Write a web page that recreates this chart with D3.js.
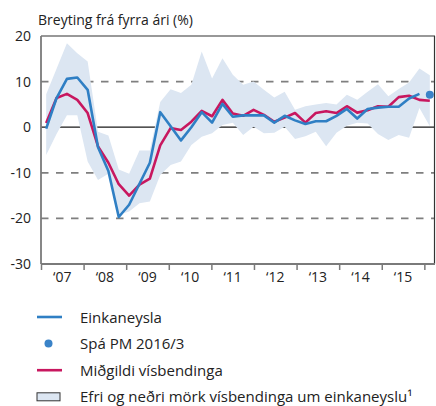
<!DOCTYPE html>
<html>
<head>
<meta charset="utf-8">
<script src="https://cdn.jsdelivr.net/npm/d3@7"></script>
<style>
  body { margin: 0; background: #fff; }
  svg { display: block; font-family: "Open Sans", sans-serif; }
</style>
</head>
<body>
<svg id="chart"></svg>
<script>
// Ársfjórðungar 2007F1 - 2016F2
const quarters = [
  "2007Q1","2007Q2","2007Q3","2007Q4","2008Q1","2008Q2","2008Q3","2008Q4",
  "2009Q1","2009Q2","2009Q3","2009Q4","2010Q1","2010Q2","2010Q3","2010Q4",
  "2011Q1","2011Q2","2011Q3","2011Q4","2012Q1","2012Q2","2012Q3","2012Q4",
  "2013Q1","2013Q2","2013Q3","2013Q4","2014Q1","2014Q2","2014Q3","2014Q4",
  "2015Q1","2015Q2","2015Q3","2015Q4","2016Q1","2016Q2"
];

// Einkaneysla (2007Q1 - 2016Q1)
const einkaneysla = [
  -0.3, 6.4, 10.6, 10.9, 8.2, -4.4, -9.6, -19.7,
  -17.0, -12.4, -7.8, 3.3, 0.2, -2.9, 0.0, 3.3,
  1.0, 5.1, 2.3, 2.6, 2.6, 2.6, 1.0, 2.5,
  1.5, 0.7, 1.3, 1.3, 2.5, 4.0, 1.9, 4.0,
  4.3, 4.5, 4.5, 6.3, 7.3
];

// Spá PM 2016/3
const spaQuarter = "2016Q2";
const spaValue = 7.1;

// Miðgildi vísbendinga
const midgildi = [
  0.9, 6.4, 7.3, 6.0, 3.1, -4.2, -7.8, -12.5,
  -15.0, -12.6, -11.3, -4.0, -0.2, -0.6, 1.2, 3.6,
  2.4, 6.0, 3.0, 2.5, 3.8, 2.7, 1.2, 2.1,
  3.1, 1.0, 3.1, 3.5, 3.1, 4.6, 3.2, 3.7,
  4.6, 4.5, 6.6, 6.9, 6.0, 5.8
];

// Efri og neðri mörk vísbendinga
const efri = [
  7.2, 12.8, 18.4, 16.2, 14.4, -1.0, -1.8, -9.3,
  -10.2, -5.1, -5.1, 5.5, 8.3, 7.5, 9.3, 16.6,
  10.7, 15.1, 11.5, 9.3, 10.0, 8.2, 6.5, 7.8,
  3.8, 4.6, 5.0, 5.3, 5.0, 7.1, 6.0, 7.8,
  9.4, 6.8, 8.4, 9.8, 12.9, 11.4
];
const nedri = [
  -6.1, -1.5, 2.6, 2.6, -7.5, -11.6, -10.2, -19.2,
  -18.5, -16.7, -16.3, -10.5, -8.3, -7.5, -3.9, -2.1,
  -1.3, 0.5, 1.0, -1.7, 0.1, -1.3, -1.2, 0.1,
  -2.6, -2.0, -1.0, -4.2, -1.2, 0.3, 1.0, 0.8,
  -1.5, -2.8, -1.7, -2.3, 4.2, 0.2
];

const yTicks = [20, 10, 0, -10, -20, -30];
const yearTicks = [2007, 2008, 2009, 2010, 2011, 2012, 2013, 2014, 2015, 2016];
const yearLabels = ["‘07", "‘08", "‘09", "‘10", "‘11", "‘12", "‘13", "‘14", "‘15"];

const legendItems = [
  { key: "line", color: "#2f7fc4", label: "Einkaneysla" },
  { key: "dot", color: "#3a83c8", label: "Spá PM 2016/3" },
  { key: "line", color: "#c8175f", label: "Miðgildi vísbendinga" },
  { key: "box", color: "#dce6f2", label: "Efri og neðri mörk vísbendinga um einkaneyslu¹" }
];

const width = 436, height = 406;
const margin = { top: 36, right: 1, bottom: 142, left: 41 };
const plotRight = width - margin.right;
const plotBottom = height - margin.bottom;

const svg = d3.select("#chart")
  .attr("width", width)
  .attr("height", height)
  .attr("viewBox", [0, 0, width, height]);

// x fyrir gögn (ársfjórðungar) og x fyrir ártöl á ás
const x = d3.scalePoint()
  .domain(quarters)
  .range([margin.left, plotRight])
  .padding(0.5);

const xYear = d3.scaleLinear()
  .domain([2007, 2016.25])
  .range([margin.left, plotRight]);

const y = d3.scaleLinear()
  .domain([-30, 20])
  .range([plotBottom, margin.top]);

// Gridlínur
svg.append("g")
  .selectAll("line")
  .data(yTicks.filter(d => d !== 0 && d !== 20 && d !== -30))
  .join("line")
    .attr("x1", margin.left)
    .attr("x2", plotRight)
    .attr("y1", d => y(d))
    .attr("y2", d => y(d))
    .attr("stroke", "#7f7f7f")
    .attr("stroke-width", 1.8)
    .attr("stroke-dasharray", "7.5,7.5");

svg.append("line")
  .attr("x1", margin.left)
  .attr("x2", plotRight)
  .attr("y1", y(0))
  .attr("y2", y(0))
  .attr("stroke", "#1a1a1a")
  .attr("stroke-width", 1.2);

// Bil vísbendinga
const band = quarters.map((q, i) => ({ q, hi: efri[i], lo: nedri[i] }));

svg.append("path")
  .datum(band)
  .attr("fill", "#dce6f2")
  .attr("d", d3.area()
    .x(d => x(d.q))
    .y0(d => y(d.lo))
    .y1(d => y(d.hi)));

// Miðgildi
svg.append("path")
  .datum(midgildi.map((v, i) => ({ q: quarters[i], v })))
  .attr("fill", "none")
  .attr("stroke", "#c8175f")
  .attr("stroke-width", 2.6)
  .attr("stroke-linejoin", "round")
  .attr("d", d3.line().x(d => x(d.q)).y(d => y(d.v)));

// Einkaneysla
svg.append("path")
  .datum(einkaneysla.map((v, i) => ({ q: quarters[i], v })))
  .attr("fill", "none")
  .attr("stroke", "#2f7fc4")
  .attr("stroke-width", 2.6)
  .attr("stroke-linejoin", "round")
  .attr("d", d3.line().x(d => x(d.q)).y(d => y(d.v)));

// Spá
svg.append("circle")
  .attr("cx", x(spaQuarter))
  .attr("cy", y(spaValue))
  .attr("r", 4)
  .attr("fill", "#3a83c8");

// Rammi
svg.append("line")
  .attr("x1", margin.left).attr("x2", plotRight)
  .attr("y1", margin.top).attr("y2", margin.top)
  .attr("stroke", "#333").attr("stroke-width", 1.2);
svg.append("line")
  .attr("x1", plotRight - 0.5).attr("x2", plotRight - 0.5)
  .attr("y1", margin.top).attr("y2", plotBottom)
  .attr("stroke", "#333").attr("stroke-width", 1.2);

// y-ás
svg.append("line")
  .attr("x1", margin.left).attr("x2", margin.left)
  .attr("y1", margin.top).attr("y2", plotBottom)
  .attr("stroke", "#7a7a7a").attr("stroke-width", 1.8);

svg.append("g")
  .selectAll("text")
  .data(yTicks)
  .join("text")
    .attr("x", 31)
    .attr("y", d => y(d))
    .attr("dy", "0.36em")
    .attr("text-anchor", "end")
    .attr("font-size", 14)
    .attr("fill", "#222")
    .text(d => d);

// x-ás
const xAxis = svg.append("g")
  .attr("transform", `translate(0,${plotBottom})`)
  .call(d3.axisBottom(xYear).tickValues(yearTicks).tickSize(6).tickFormat(""))
  .call(g => g.select(".domain").attr("stroke", "#7a7a7a").attr("stroke-width", 1.8).attr("d", `M${margin.left},0H${plotRight}`))
  .call(g => g.selectAll(".tick line").attr("stroke", "#7a7a7a").attr("stroke-width", 1.5));

svg.append("g")
  .selectAll("text")
  .data(yearLabels)
  .join("text")
    .attr("x", (d, i) => (xYear(yearTicks[i]) + xYear(yearTicks[i + 1])) / 2)
    .attr("y", plotBottom + 18)
    .attr("text-anchor", "middle")
    .attr("font-size", 14)
    .attr("fill", "#222")
    .text(d => d);

// Titill ás
svg.append("text")
  .attr("x", 38)
  .attr("y", 25)
  .attr("font-size", 14)
  .attr("fill", "#222")
  .text("Breyting frá fyrra ári (%)");

// Skýringar
const legend = svg.append("g")
  .attr("transform", "translate(37,317)");

const rows = legend.selectAll("g")
  .data(legendItems)
  .join("g")
    .attr("transform", (d, i) => `translate(0,${i * 26.6})`);

rows.filter(d => d.key === "line")
  .append("line")
  .attr("x1", 0).attr("x2", 25)
  .attr("stroke", d => d.color)
  .attr("stroke-width", 2.6);

rows.filter(d => d.key === "dot")
  .append("circle")
  .attr("cx", 11.5)
  .attr("r", 4)
  .attr("fill", d => d.color);

rows.filter(d => d.key === "box")
  .append("rect")
  .attr("x", 0).attr("y", -4)
  .attr("width", 23).attr("height", 8)
  .attr("fill", d => d.color)
  .attr("stroke", "#333")
  .attr("stroke-width", 1);

rows.append("text")
  .attr("x", 43)
  .attr("y", 5.5)
  .attr("font-size", 15)
  .attr("fill", "#222")
  .text(d => d.label);
</script>
</body>
</html>
